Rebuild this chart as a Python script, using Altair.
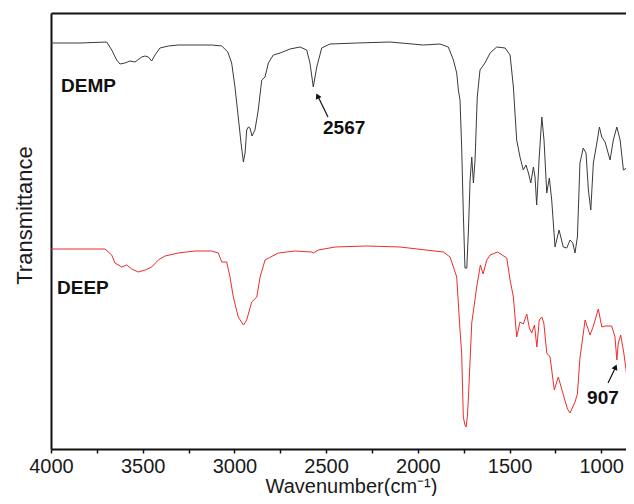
import altair as alt
import pandas as pd

# ---- data (wavenumber in cm-1, transmittance in arbitrary units) ----
wn_demp = [4000, 3842, 3696, 3669, 3642, 3624, 3597, 3569, 3542, 3505, 3487, 3469, 3451, 3433, 3406,
           3360, 3306, 3215, 3124, 3069, 3036, 3015, 2997, 2979, 2964, 2951, 2942, 2933, 2924, 2915,
           2904, 2888, 2870, 2851, 2833, 2815, 2788, 2751, 2697, 2642, 2606, 2588, 2570, 2551, 2524,
           2479, 2333, 2152, 1970, 1879, 1834, 1806, 1788, 1779, 1770, 1761, 1752, 1743, 1733, 1724,
           1715, 1706, 1697, 1688, 1676, 1661, 1634, 1606, 1570, 1524, 1497, 1479, 1461, 1443, 1425,
           1410, 1397, 1384, 1370, 1361, 1352, 1338, 1324, 1312, 1297, 1283, 1270, 1252, 1230, 1207,
           1188, 1170, 1155, 1143, 1130, 1116, 1098, 1083, 1070, 1057, 1043, 1024, 1010, 997, 979,
           952, 934, 915, 897, 879, 861, 834, 821]
t_demp = [406, 406, 407, 399, 389, 385, 386, 388, 387, 392, 393, 392, 388, 394, 401,
          403, 404, 404, 404, 403, 397, 386, 362, 332, 306, 287, 296, 319, 322, 321,
          313, 319, 339, 369, 372, 386, 394, 396, 400, 402, 399, 386, 362, 382, 401,
          405, 406, 407, 404, 405, 402, 389, 376, 359, 349, 302, 236, 181, 181, 219,
          269, 292, 266, 289, 352, 379, 386, 396, 402, 401, 394, 362, 309, 292, 279,
          284, 276, 266, 282, 272, 244, 292, 332, 309, 256, 271, 249, 202, 219, 202,
          201, 209, 206, 196, 212, 286, 301, 296, 259, 239, 286, 306, 322, 312, 307,
          289, 309, 322, 309, 279, 281, 272, 266]

wn_deep = [4000, 3842, 3706, 3669, 3651, 3614, 3587, 3560, 3524, 3487, 3451, 3415, 3378, 3306, 3215,
           3124, 3088, 3069, 3042, 3024, 3006, 2979, 2951, 2933, 2906, 2878, 2860, 2833, 2761, 2670,
           2578, 2570, 2542, 2451, 2279, 2097, 1861, 1824, 1788, 1770, 1761, 1752, 1743, 1737, 1730,
           1724, 1706, 1679, 1659, 1644, 1624, 1606, 1565, 1515, 1497, 1479, 1461, 1443, 1425, 1406,
           1392, 1379, 1364, 1351, 1338, 1324, 1313, 1297, 1279, 1256, 1234, 1211, 1184, 1170, 1143,
           1130, 1116, 1088, 1061, 1043, 1016, 997, 979, 943, 925, 915, 907, 894, 877, 852,
           837, 821]
t_deep = [200, 200, 200, 194, 186, 182, 184, 180, 177, 179, 182, 189, 193, 196, 198,
          198, 196, 187, 187, 172, 152, 132, 124, 129, 147, 152, 172, 189, 196, 198,
          197, 196, 199, 202, 203, 202, 197, 192, 172, 119, 96, 32, 24, 22, 32,
          52, 126, 162, 184, 175, 189, 194, 197, 191, 169, 152, 112, 127, 125, 135,
          121, 116, 124, 102, 129, 132, 126, 96, 92, 59, 72, 57, 40, 36, 47,
          55, 91, 129, 114, 123, 140, 122, 123, 123, 112, 89, 106, 114, 96, 62,
          59, 57]

x_ticks = [4000, 3750, 3500, 3250, 3000, 2750, 2500, 2250, 2000, 1750, 1500, 1250, 1000]
x_domain = [4000, 865]
y_domain = [0, 436]

label_text = ["DEMP", "DEEP", "2567", "907"]
label_wn = [3945, 3967, 2517, 1077]
label_t = [357, 155, 315, 45]

arrow_wn = [2490, 963]
arrow_t = [332, 66]
arrow_wn2 = [2548, 921]
arrow_t2 = [354, 82]
head_wn = [2547, 922]
head_t = [353, 82]
head_angle = [334, 24]

# ---- tables ----
spectra = pd.concat([
    pd.DataFrame({"wn": wn_demp, "T": t_demp, "sample": "DEMP"}),
    pd.DataFrame({"wn": wn_deep, "T": t_deep, "sample": "DEEP"}),
], ignore_index=True)
labels = pd.DataFrame({"wn": label_wn, "T": label_t, "text": label_text})
arrows = pd.DataFrame({"wn": arrow_wn, "T": arrow_t, "wn2": arrow_wn2, "T2": arrow_t2})
heads = pd.DataFrame({"wn": head_wn, "T": head_t, "angle": head_angle})

FONT = "Liberation Sans"
x_scale = alt.Scale(domain=x_domain, nice=False, zero=False)
y_scale = alt.Scale(domain=y_domain, nice=False, zero=False)

bottom_axis = alt.Axis(
    values=x_ticks, format="d",
    labelExpr="datum.value % 500 == 0 ? datum.label : ''",
    tickSize=4, tickWidth=1.5, domainWidth=2, grid=False,
    labelFontSize=20, labelPadding=3, labelFlush=False, labelOverlap=False,
    title="Wavenumber(cm⁻¹)", titleFontSize=20, titleX=300, titleY=43,
    titleBaseline="alphabetic",
)
left_axis = alt.Axis(
    title="Transmittance", labels=False, ticks=False, grid=False, domainWidth=2,
    titleFontSize=22, titleX=-20, titleY=202, titleBaseline="alphabetic", titleAngle=270,
)
top_axis = alt.Axis(orient="top", labels=False, ticks=False, grid=False, domainWidth=2, title=None)

lines = alt.Chart(spectra).mark_line(strokeWidth=1, clip=True).encode(
    x=alt.X("wn:Q", scale=x_scale, axis=bottom_axis),
    y=alt.Y("T:Q", scale=y_scale, axis=left_axis),
    color=alt.Color("sample:N", scale=alt.Scale(domain=["DEMP", "DEEP"], range=["#3a3a3a", "#ee2c2c"]), legend=None),
)

texts = alt.Chart(labels).mark_text(
    align="left", baseline="alphabetic", fontWeight="bold", fontSize=19, font=FONT, color="#111111"
).encode(
    x=alt.X("wn:Q", scale=x_scale, axis=top_axis),
    y=alt.Y("T:Q", scale=y_scale, axis=None),
    text="text:N",
)

arrow_lines = alt.Chart(arrows).mark_rule(strokeWidth=1.2, color="#111111").encode(
    x=alt.X("wn:Q", scale=x_scale, axis=None),
    x2="wn2:Q",
    y=alt.Y("T:Q", scale=y_scale, axis=None),
    y2="T2:Q",
)

arrow_heads = alt.Chart(heads).mark_point(shape="triangle-up", filled=True, size=40, color="#111111", opacity=1).encode(
    x=alt.X("wn:Q", scale=x_scale, axis=None),
    y=alt.Y("T:Q", scale=y_scale, axis=None),
    angle=alt.Angle("angle:Q", scale=None),
)

chart = alt.layer(lines, texts, arrow_lines, arrow_heads).resolve_axis(
    x="independent", y="independent"
).properties(
    width=575, height=436,
    autosize=alt.AutoSizeParams(type="none"),
    padding={"left": 43, "top": 5, "right": 0, "bottom": 47},
).configure_view(stroke=None).configure_axis(
    domainColor="#111111", tickColor="#111111", labelColor="#1a1a1a", titleColor="#1a1a1a",
    labelFont=FONT, titleFont=FONT, titleFontWeight="normal",
)

chart.save("out.html", embed_options={"renderer": "svg", "actions": False})
